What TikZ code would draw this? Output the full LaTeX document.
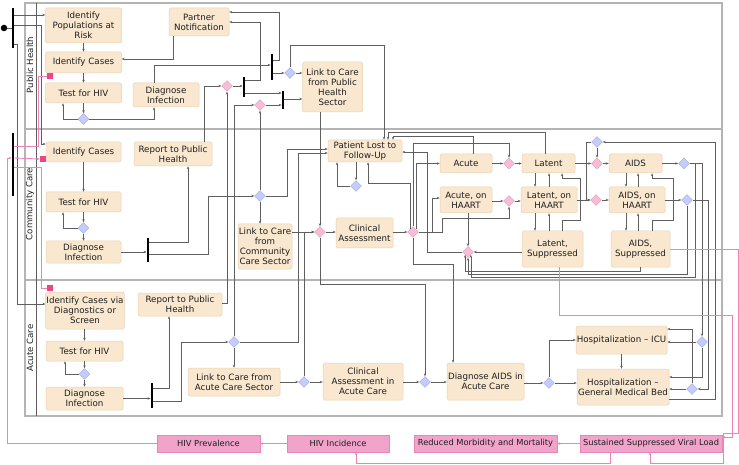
\documentclass[tikz,border=0pt]{standalone}
\usepackage{fontspec}
\setmainfont{DejaVu Sans}
\usetikzlibrary{arrows.meta,shapes.geometric}
\definecolor{cact}{RGB}{249,232,207}
\definecolor{cactd}{RGB}{232,210,178}
\definecolor{cbd}{RGB}{196,204,250}
\definecolor{cbdd}{RGB}{160,170,230}
\definecolor{cpd}{RGB}{246,190,214}
\definecolor{cpdd}{RGB}{228,150,190}
\definecolor{cout}{RGB}{241,163,202}
\definecolor{coutd}{RGB}{228,135,182}
\definecolor{cpl}{RGB}{236,132,182}
\definecolor{cpsq}{RGB}{232,72,132}
\definecolor{clc}{RGB}{95,95,95}
\definecolor{clane}{RGB}{180,180,180}
\definecolor{ctxt}{RGB}{30,30,30}
\begin{document}
\begin{tikzpicture}[x=1pt,y=-1pt,
  act/.style={draw=cactd, fill=cact, rounded corners=1.5pt, align=center, inner sep=0.8pt, text=ctxt, font=\fontsize{8.7}{10}\selectfont, line width=0.5pt},
  outb/.style={draw=coutd, fill=cout, align=center, inner sep=1pt, text=ctxt, font=\fontsize{8.3}{10}\selectfont, minimum height=17, line width=0.4pt},
  bd/.style={diamond, draw=cbdd, fill=cbd, minimum width=11, minimum height=11, inner sep=0, line width=0.4pt},
  pd/.style={diamond, draw=cpdd, fill=cpd, minimum width=11, minimum height=11, inner sep=0, line width=0.4pt},
  barn/.style={rectangle, fill=black, minimum width=2.5, inner sep=0},
  psqr/.style={rectangle, fill=cpsq, minimum width=6.5, minimum height=6.5, inner sep=0},
  ln/.style={draw=clc, line width=0.5pt},
  arr/.style={ln, -{Stealth[length=3pt,width=2.4pt]}},
  parr/.style={draw=cpl, line width=0.9pt, -{Stealth[length=3pt,width=2.6pt]}},
  lanel/.style={draw=clane, line width=1.1pt},
  lanelab/.style={rotate=90, text=ctxt, font=\fontsize{8.6}{10}\selectfont}
]
\useasboundingbox (0,0) rectangle (739,465);
\fill[white] (0,0) rectangle (739,465);
% lanes
\draw[lanel] (25,3) rectangle (722,416);
\draw[lanel] (25,129) -- (722,129);
\draw[lanel] (25,280) -- (722,280);
\draw[draw=clc, line width=0.6pt] (36,3) -- (36,416);
\node[lanelab] (lab1) at (30,65) {Public Health};
\node[lanelab] (lab2) at (30,204) {Community Care};
\node[lanelab] (lab3) at (30,348) {Acute Care};

% start
\node[circle, fill=black, minimum size=6.5, inner sep=0] (st) at (4,28) {};
\node[barn, minimum height=40] (sbar) at (13,28) {};
\node[barn, minimum height=63] (pbar) at (13,165) {};

% Public Health
\node[act, minimum width=76, minimum height=35] (ph1) at (83.5,25.5) {Identify\\Populations at\\Risk};
\node[act, minimum width=76, minimum height=21] (ph2) at (83.5,62.5) {Identify Cases};
\node[act, minimum width=76, minimum height=20] (ph3) at (83.5,93) {Test for HIV};
\node[act, minimum width=66, minimum height=24] (ph4) at (166,95) {Diagnose\\Infection};
\node[act, minimum width=60, minimum height=28] (ph5) at (199,22) {Partner\\Notification};
\node[act, minimum width=60, minimum height=50] (ph6) at (332.5,87) {Link to Care\\from Public\\Health\\Sector};
\node[bd] (phd) at (83.5,119) {};
\node[bd] (phbd) at (290,73) {};
\node[pd] (pk1) at (227,86) {};
\node[pd] (pk2) at (260,105) {};
\node[barn, minimum height=26] (bar1) at (272,67) {};
\node[barn, minimum height=20] (bar2) at (244,87) {};
\node[barn, minimum height=18] (bar3) at (283,100) {};

% Community Care
\node[act, minimum width=75, minimum height=20] (cc1) at (83.5,152) {Identify Cases};
\node[act, minimum width=78, minimum height=24] (cc2) at (173,154) {Report to Public\\Health};
\node[act, minimum width=75, minimum height=20] (cc3) at (83.5,202) {Test for HIV};
\node[act, minimum width=75, minimum height=22] (cc4) at (83.5,252) {Diagnose\\Infection};
\node[bd] (ccd) at (83.5,228) {};
\node[barn, minimum height=24] (cbar) at (148,250) {};
\node[bd] (cbd) at (260,196) {};
\node[act, minimum width=54, minimum height=45] (cc5) at (265,246.5) {Link to Care\\from\\Community\\Care Sector};
\node[pd] (cpk) at (320,232) {};
\node[act, minimum width=57, minimum height=30] (cc6) at (364.5,233) {Clinical\\Assessment};
\node[pd] (cpk2) at (413,232) {};
\node[act, minimum width=74, minimum height=22] (plfu) at (365,151) {Patient Lost to\\Follow-Up};
\node[bd] (pbd) at (356,186) {};
\node[act, minimum width=52, minimum height=19] (acu) at (466,163.5) {Acute};
\node[act, minimum width=52, minimum height=26] (acuh) at (466,200) {Acute, on\\HAART};
\node[act, minimum width=53, minimum height=19] (lat) at (548.5,163.5) {Latent};
\node[act, minimum width=56, minimum height=26] (lath) at (549,200) {Latent, on\\HAART};
\node[act, minimum width=61, minimum height=36] (lats) at (552.5,249) {Latent,\\Suppressed};
\node[act, minimum width=53, minimum height=19] (aid) at (635.5,163.5) {AIDS};
\node[act, minimum width=56, minimum height=26] (aidh) at (637,200) {AIDS, on\\HAART};
\node[act, minimum width=59, minimum height=36] (aids) at (640.5,249) {AIDS,\\Suppressed};
\node[pd] (pka) at (509,163.5) {};
\node[pd] (pkb) at (509,201) {};
\node[pd] (pkc) at (597,163.5) {};
\node[pd] (pkd) at (596,200) {};
\node[bd] (bdt) at (597,142) {};
\node[bd] (bda) at (684,163.5) {};
\node[bd] (bdb) at (687,200) {};
\node[pd] (pke) at (468,252) {};

% Acute Care
\node[act, minimum width=78, minimum height=37] (ac1) at (85,310.5) {Identify Cases via\\Diagnostics or\\Screen};
\node[act, minimum width=84, minimum height=23] (ac2) at (180,304.5) {Report to Public\\Health};
\node[act, minimum width=77, minimum height=20] (ac3) at (84.5,351) {Test for HIV};
\node[bd] (acd) at (84.5,374) {};
\node[act, minimum width=77, minimum height=23] (ac4) at (84.5,398.5) {Diagnose\\Infection};
\node[barn, minimum height=25] (abar) at (152,395.5) {};
\node[bd] (abd) at (234,342) {};
\node[act, minimum width=92, minimum height=28] (ac5) at (234,382) {Link to Care from\\Acute Care Sector};
\node[bd] (abd2) at (304,382) {};
\node[act, minimum width=80, minimum height=37] (ac6) at (363,381.5) {Clinical\\Assessment in\\Acute Care};
\node[bd] (abd3) at (425,382) {};
\node[act, minimum width=77, minimum height=37] (ac7) at (485.5,381.5) {Diagnose AIDS in\\Acute Care};
\node[bd] (abd4) at (549,383) {};
\node[act, minimum width=91, minimum height=28] (icu) at (621.5,340) {Hospitalization – ICU};
\node[act, minimum width=92, minimum height=36] (gmb) at (623,387) {Hospitalization –\\General Medical Bed};
\node[bd] (icud) at (702,342) {};
\node[bd] (gmbd) at (692,389) {};

% outcomes
\node[outb, minimum width=103] (hp) at (208.5,443.5) {HIV Prevalence};
\node[outb, minimum width=102] (hi) at (338,443.5) {HIV Incidence};
\node[outb, minimum width=143] (rm) at (485.5,443.5) {Reduced Morbidity and Mortality};
\node[outb, minimum width=142] (sv) at (651,443.5) {Sustained Suppressed Viral Load};

% start connectors
\draw[ln] (st) -- (sbar);
\draw[arr] (sbar.east |- 0,15) -- (ph1.west |- 0,15);
\draw[arr] (sbar.east |- 0,25) -| (41,144) -- (cc1.west |- 0,144);
\draw[arr] (sbar.east |- 0,44) -| (17,304) -- (ac1.west |- 0,304);

% public health connectors
\draw[arr] (ph1) -- (ph2);
\draw[arr] (ph2) -- (ph3);
\draw[arr] (ph3.south) -- (phd.north);
\draw[arr] (phd.west) -| (ph3.south -| 63,0);
\draw[arr] (phd.east) -| (ph4.south -| 154,0);
\draw[arr] (ph4.north -| 154,0) |- (bar1.west |- 0,65);
\draw[arr] (ph5.south -| 173,0) |- (ph2.east |- 0,59);
\draw[arr] (bar1.east |- 0,60) -| (279,12) -- (ph5.east |- 0,12);
\draw[arr] (bar1.east |- 0,73) -- (phbd.west);
\draw[arr] (phbd.east) -- (ph6.west |- phbd.east);
\draw[arr] (phbd.north) |- (384,45) -- (plfu.north -| 384,0);
\draw[arr] (pk1.east) -- (bar2.west |- pk1.east);
\draw[arr] (bar2.east |- 0,80) -| (260,22) -- (ph5.east |- 0,22);
\draw[arr] (bar2.east |- 0,93) -- (bar3.west |- 0,93);
\draw[arr] (pk2.east) -- (bar3.west |- pk2.east);
\draw[arr] (bar3.east |- 0,99) -- (ph6.west |- 0,99);
\draw[arr] (cc2.north -| 204,0) |- (pk1.west);
\draw[arr] (ac2.east |- 0,303) -| (pk1.south);
\draw[arr] (abd.north) |- (pk2.west);
\draw[arr] (cbd.north) -- (pk2.south);
\draw[arr] (ph6.south -| cpk.north) -- (cpk.north);

% community connectors
\draw[arr] (cc1) -- (cc3);
\draw[arr] (cc3.south) -- (ccd.north);
\draw[arr] (ccd.west) -| (cc3.south -| 63,0);
\draw[arr] (ccd.south) -- (cc4.north);
\draw[arr] (cc4.east) -- (cbar.west |- cc4.east);
\draw[arr] (cbar.east |- 0,242) -| (cc2.south -| 188,0);
\draw[arr] (cbar.east |- 0,254) -| (208,196) -- (cbd.west);
\draw[arr] (cbd.south) -- (cc5.north -| cbd.south);
\draw[arr] (cbd.east) -| (287,149) -- (plfu.west |- 0,149);
\draw[arr] (cc5.east |- cpk.west) -- (cpk.west);
\draw[arr] (abd2.north) |- (cpk.west);
\draw[arr] (abd.east) -| (298,153) -- (plfu.west |- 0,153);
\draw[arr] (cpk.east) -- (cc6.west |- cpk.east);
\draw[arr] (cpk.south) |- (abd3.north |- 0,284) -- (abd3.north);
\draw[arr] (cc6.east |- cpk2.west) -- (cpk2.west);
\draw[arr] (cpk2.north west) |- (368,183) -- (plfu.south -| 368,0);
\draw[arr] (cpk2.north) |- (pka.north |- 0,143) -- (pka.north);
\draw[arr] (cpk2.north east) |- (acu.west);
\draw[arr] (cpk2.east) -| (432,198) -- (acuh.west |- 0,198);
\draw[arr] (cpk2.east) -| (442,218) -| (pkb.south);
\draw[arr] (cpk2.south) |- (453,264) -- (ac7.north -| 453,0);
\draw[arr] (plfu.south -| pbd.north) -- (pbd.north);
\draw[arr] (pbd.west) -| (plfu.south -| 337,0);
\draw[arr] (acu.north -| 473,0) |- (393,136) -- (plfu.north -| 393,0);
\draw[arr] (lat.north -| 545,0) |- (388,132) -- (plfu.north -| 388,0);
\draw[arr] (pke.west) -| (427,152) -- (plfu.east |- 0,152);
\draw[arr] (acu.east) -- (pka.west);
\draw[arr] (pka.east) -- (lat.west);
\draw[arr] (acuh.east |- pkb.west) -- (pkb.west);
\draw[arr] (pkb.east) -- (lath.west |- pkb.east);
\draw[arr] (lat.east) -- (pkc.west);
\draw[arr] (pkc.east) -- (aid.west);
\draw[arr] (lath.east) -- (pkd.west);
\draw[arr] (pkd.east) -- (aidh.west);
\draw[arr] (bdt.south) -- (pkc.north);
\draw[arr] (bdt.west) -| (586,200) -- (pkd.west);
\draw[arr] (lat.south -| 535,0) -- (lath.north -| 535,0);
\draw[arr] (lath.north -| 549,0) -- (lat.south -| 549,0);
\draw[arr] (lath.south -| 535,0) -- (lats.north -| 535,0);
\draw[arr] (lats.north -| 549,0) -- (lath.south -| 549,0);
\draw[arr] (lats.north -| 562,0) -- (562,220) -| (580,178) -| (lat.south -| 562,0);
\draw[arr] (aid.south -| 626,0) -- (aidh.north -| 626,0);
\draw[arr] (aidh.north -| 638,0) -- (aid.south -| 638,0);
\draw[arr] (aidh.south -| 626,0) -- (aids.north -| 626,0);
\draw[arr] (aids.north -| 638,0) -- (aidh.south -| 638,0);
\draw[arr] (aids.north -| 652,0) -- (652,220) -| (673,178) -| (aid.south -| 652,0);
\draw[arr] (aid.east) -- (bda.west);
\draw[arr] (aidh.east) -- (bdb.west |- aidh.east);
\draw[arr] (bda.east) -| (icud.north);
\draw[arr] (bda.east) -| (695,277) -| (pke.south east);
\draw[arr] (bdb.south) |- (pke.south |- 0,274) -- (pke.south);
\draw[arr] (aids.south) |- (pke.south west |- 0,271) -- (pke.south west);
\draw[arr] (lats.west |- pke.east) -- (pke.east);
\draw[arr] (acuh.south -| pke.north) -- (pke.north);
\draw[arr] (bdb.east) -| (708,389) -- (gmbd.east);
\draw[arr] (gmb.east |- 0,399) -| (715,142) -- (bdt.east);

% acute connectors
\draw[arr] (icud.west) -- (icu.east |- icud.west);
\draw[arr] (icud.south) |- (gmb.east |- 0,377);
\draw[arr] (gmbd.west) -- (gmb.east |- gmbd.west);
\draw[arr] (gmbd.north) |- (icu.east |- 0,329);
\draw[arr] (icu.south) -- (gmb.north -| icu.south);
\draw[arr] (ac7.east |- abd4.west) -- (abd4.west);
\draw[arr] (abd4.east) -- (gmb.west |- abd4.east);
\draw[arr] (abd4.north) |- (icu.west);
\draw[arr] (ac1.south -| ac3.north) -- (ac3.north);
\draw[arr] (ac3.south -| acd.north) -- (acd.north);
\draw[arr] (acd.west) -| (ac3.south -| 65,0);
\draw[arr] (acd.south) -- (ac4.north -| acd.south);
\draw[arr] (ac4.east) -- (abar.west |- ac4.east);
\draw[arr] (abar.east |- 0,388) -| (ac2.south -| 169,0);
\draw[arr] (abar.east |- 0,401) -| (181,342) -- (abd.west);
\draw[arr] (abd.south) -- (ac5.north);
\draw[arr] (ac5.east |- abd2.west) -- (abd2.west);
\draw[arr] (abd2.east) -- (ac6.west |- abd2.east);
\draw[arr] (ac6.east |- abd3.west) -- (abd3.west);
\draw[arr] (abd3.east) -- (ac7.west |- abd3.east);

% pink connectors
\draw[parr] (hp.west) -| (7,158) -- (pbar.west |- 0,158);
\draw[parr] (pbar.east |- 0,146) -| (38,76) -- (50,76);
\draw[parr] (pbar.east |- 0,167) -| (41,288) -- (50,288);
\draw[parr] (hi.west) -- (hp.east);
\draw[parr] (sv.west) -- (rm.east);
\draw[parr] (sv.south -| 610,0) |- (356,463) -- (hi.south -| 356,0);
\draw[parr] (lats.south -| 559,0) |- (732,315) |- (sv.east |- 0,437);
\draw[parr] (aids.east) -| (738,433) -| (723,463) -| (sv.south -| 650,0);

% pink squares
\node[psqr] (sq1) at (50,76) {};
\node[psqr] (sq2) at (43,159) {};
\node[psqr] (sq3) at (50,288) {};
\draw[parr] (pbar.east |- 0,158) -- (sq2.west);
\end{tikzpicture}
\end{document}
